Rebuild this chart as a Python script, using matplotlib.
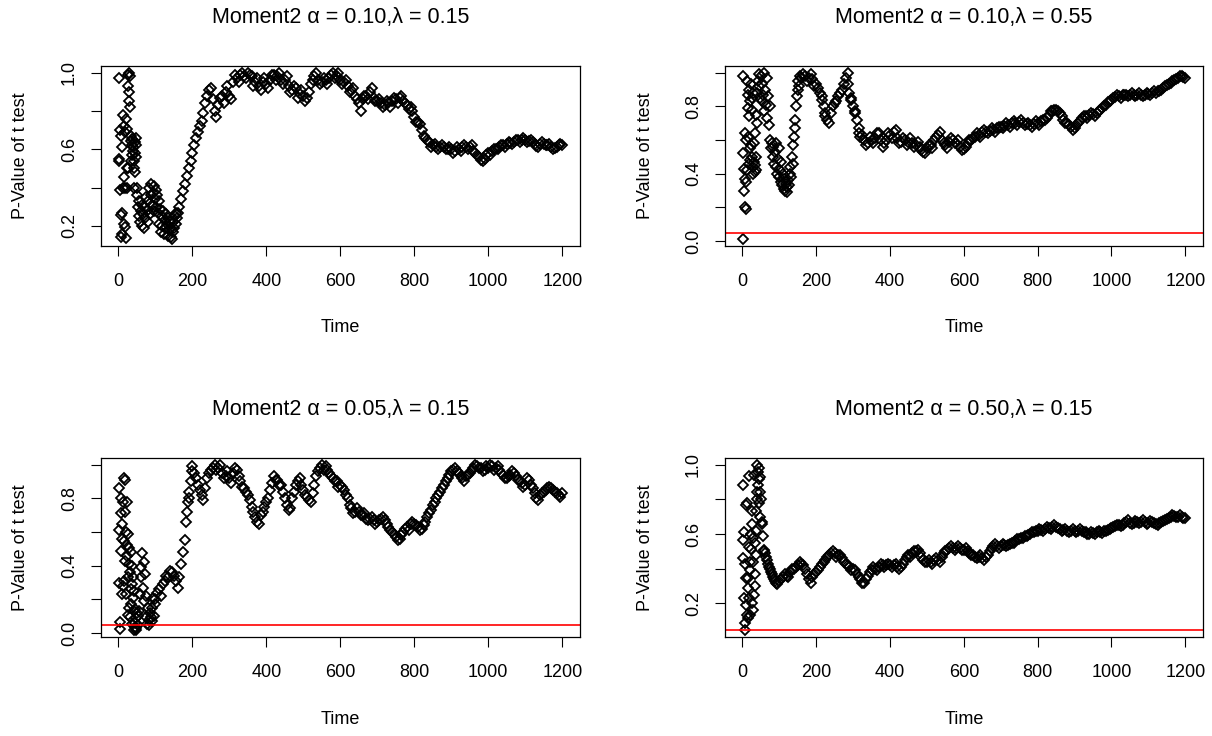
import matplotlib
matplotlib.use("Agg")
import matplotlib.pyplot as plt

plt.rcParams['font.family'] = ['Liberation Sans', 'DejaVu Sans']

# ---- panel 1: alpha 0.10, lambda 0.15 ----
p1_scatter_t = list(range(1, 51)) + list(range(51, 160, 2)) + [165, 175, 185, 195, 205, 215, 225, 235, 245, 255]
p1_scatter_v = [0.55, 0.54, 0.97, 0.39, 0.70, 0.14, 0.255, 0.67, 0.61, 0.27,
                0.16, 0.40, 0.78, 0.72, 0.21, 0.455, 0.40, 0.195, 0.69, 0.135,
                0.76, 0.705, 0.40, 0.50, 0.99, 0.93, 0.50, 0.90, 1.0, 0.85,
                0.82, 0.98, 0.67, 0.54, 0.645, 0.62, 0.57, 0.655, 0.59, 0.61,
                0.50, 0.54, 0.40, 0.64, 0.58, 0.48, 0.62, 0.66, 0.56, 0.40,
                0.36, 0.30, 0.25, 0.33, 0.22, 0.28, 0.20, 0.31, 0.26, 0.19,
                0.30, 0.24, 0.35, 0.28, 0.22, 0.33, 0.40, 0.26, 0.36, 0.42,
                0.31, 0.37, 0.28, 0.41, 0.34, 0.39, 0.30, 0.36, 0.27, 0.33,
                0.21, 0.29, 0.17, 0.25, 0.20, 0.28, 0.16, 0.23, 0.19, 0.26,
                0.21, 0.15, 0.24, 0.18, 0.22, 0.14, 0.19, 0.13, 0.17, 0.22,
                0.19, 0.25, 0.21, 0.27, 0.24,
                0.30, 0.38, 0.46, 0.54, 0.62, 0.69, 0.75, 0.84, 0.91, 0.86]
p1_band_t = list(range(160, 1201, 10))
p1_band_v = [0.27, 0.34, 0.42, 0.50, 0.58, 0.66, 0.72, 0.79, 0.88, 0.92,
             0.80, 0.83, 0.88, 0.90, 0.88, 0.95, 0.97, 0.99, 0.98, 1.0,
             0.98, 0.95, 0.93, 0.95, 0.94, 0.96, 0.99, 0.98, 0.96, 0.96,
             0.93, 0.91, 0.92, 0.89, 0.88, 0.87, 0.94, 0.98, 0.96, 0.95,
             0.96, 0.97, 1.0, 0.98, 0.96, 0.95, 0.93, 0.91, 0.88, 0.84,
             0.86, 0.88, 0.90, 0.87, 0.85, 0.84, 0.83, 0.84, 0.85, 0.86,
             0.87, 0.85, 0.83, 0.82, 0.77, 0.74, 0.70, 0.66, 0.64, 0.62,
             0.61, 0.61, 0.61, 0.60, 0.60, 0.59, 0.60, 0.61, 0.61, 0.61,
             0.59, 0.57, 0.545, 0.55, 0.58, 0.59, 0.60, 0.61, 0.62, 0.63,
             0.635, 0.64, 0.65, 0.65, 0.65, 0.645, 0.64, 0.615, 0.63, 0.63,
             0.62, 0.61, 0.605, 0.62, 0.625]
p1_mid_t = list(range(265, 1200, 10))
p1_mid_v = [0.77, 0.87, 0.84, 0.93, 0.86, 0.99, 0.95, 1.0, 0.97, 0.99,
            0.93, 0.97, 0.91, 0.97, 0.92, 0.99, 0.96, 1.0, 0.94, 0.98,
            0.90, 0.93, 0.87, 0.91, 0.85, 0.90, 0.96, 1.0, 0.94, 0.97,
            0.94, 0.99, 0.97, 1.0, 0.94, 0.96, 0.90, 0.92, 0.86, 0.80,
            0.88, 0.86, 0.92, 0.85, 0.86, 0.82, 0.85, 0.82, 0.87, 0.84,
            0.88, 0.84, 0.81, 0.80, 0.74, 0.73, 0.67, 0.65, 0.61, 0.63,
            0.60, 0.62, 0.60, 0.61, 0.58, 0.61, 0.59, 0.62, 0.60, 0.62,
            0.58, 0.56, 0.54, 0.57, 0.57, 0.60, 0.60, 0.62, 0.61, 0.64,
            0.63, 0.65, 0.64, 0.66, 0.64, 0.65, 0.63, 0.61, 0.64, 0.62,
            0.63, 0.60, 0.61, 0.63]

# ---- panel 2: alpha 0.10, lambda 0.55 ----
p2_scatter_t = list(range(1, 41)) + list(range(42, 157, 2)) + [215, 225, 285, 295, 305, 315]
p2_scatter_v = [0.01, 0.98, 0.52, 0.30, 0.43, 0.37, 0.20, 0.64, 0.60, 0.19,
                0.35, 0.42, 0.95, 0.62, 0.87, 0.79, 0.46, 0.74, 0.90, 0.55,
                0.83, 0.48, 0.93, 0.57, 0.85, 0.50, 0.78, 0.44, 0.88, 0.40,
                0.58, 0.47, 0.45, 0.64, 0.41, 0.50, 0.42, 0.75, 0.88, 0.70,
                0.95, 0.99, 0.92, 0.85, 0.98, 0.83, 0.93, 0.87, 1.0, 0.77,
                0.90, 0.81, 0.97, 0.73, 0.86, 0.69, 0.80, 0.60, 0.55, 0.58,
                0.50, 0.56, 0.46, 0.53, 0.44, 0.58, 0.40, 0.49, 0.38, 0.55,
                0.42, 0.35, 0.47, 0.33, 0.40, 0.31, 0.37, 0.30, 0.34, 0.32,
                0.29, 0.36, 0.33, 0.40, 0.44, 0.38, 0.50, 0.46, 0.57, 0.62,
                0.67, 0.72, 0.80, 0.86, 0.90, 0.95, 0.92, 0.98,
                0.84, 0.76, 0.93, 0.84, 0.76, 0.67]
p2_band_t = list(range(160, 1201, 10))
p2_band_v = [0.97, 0.98, 0.97, 0.96, 0.93, 0.88, 0.80, 0.72, 0.76, 0.82,
             0.86, 0.90, 0.97, 0.88, 0.80, 0.72, 0.62, 0.60, 0.58, 0.60,
             0.61, 0.64, 0.56, 0.60, 0.63, 0.65, 0.61, 0.59, 0.60, 0.59,
             0.58, 0.57, 0.56, 0.53, 0.55, 0.57, 0.60, 0.63, 0.60, 0.57,
             0.59, 0.60, 0.58, 0.56, 0.545, 0.58, 0.60, 0.62, 0.63, 0.645,
             0.65, 0.655, 0.66, 0.67, 0.68, 0.685, 0.69, 0.70, 0.70, 0.705,
             0.70, 0.695, 0.69, 0.695, 0.70, 0.71, 0.72, 0.75, 0.77, 0.78,
             0.76, 0.72, 0.70, 0.68, 0.67, 0.70, 0.73, 0.745, 0.75, 0.755,
             0.76, 0.78, 0.80, 0.825, 0.84, 0.855, 0.86, 0.865, 0.865, 0.87,
             0.87, 0.87, 0.865, 0.87, 0.875, 0.88, 0.88, 0.89, 0.91, 0.925,
             0.94, 0.955, 0.97, 0.98, 0.97]
p2_mid_t = list(range(165, 1200, 10))
p2_mid_v = [0.99, 0.95, 0.99, 0.92, 0.91, 0.86, 0.74, 0.70, 0.80, 0.83,
            0.88, 0.93, 1.0, 0.85, 0.77, 0.64, 0.63, 0.57, 0.62, 0.58,
            0.64, 0.60, 0.58, 0.64, 0.61, 0.66, 0.58, 0.61, 0.57, 0.61,
            0.56, 0.59, 0.54, 0.52, 0.57, 0.55, 0.62, 0.65, 0.58, 0.55,
            0.61, 0.58, 0.60, 0.54, 0.56, 0.60, 0.61, 0.64, 0.62, 0.66,
            0.64, 0.67, 0.65, 0.68, 0.67, 0.70, 0.68, 0.71, 0.69, 0.72,
            0.69, 0.70, 0.68, 0.71, 0.69, 0.72, 0.73, 0.77, 0.78, 0.77,
            0.74, 0.70, 0.69, 0.66, 0.69, 0.71, 0.74, 0.73, 0.76, 0.74,
            0.77, 0.79, 0.81, 0.83, 0.85, 0.87, 0.85, 0.87, 0.86, 0.88,
            0.86, 0.88, 0.86, 0.88, 0.87, 0.89, 0.89, 0.90, 0.92, 0.93,
            0.95, 0.96, 0.98, 0.975]

# ---- panel 3: alpha 0.05, lambda 0.15 ----
p3_scatter_t = (list(range(1, 51)) + list(range(52, 99, 2)) +
                [105, 115, 125, 135, 145, 155, 165, 175, 183, 186,
                 189, 192, 195, 198, 205, 215, 225, 235, 245, 255])
p3_scatter_v = [0.61, 0.30, 0.86, 0.065, 0.025, 0.80, 0.49, 0.71, 0.23, 0.56,
                0.65, 0.28, 0.78, 0.545, 0.31, 0.92, 0.72, 0.91, 0.43, 0.60,
                0.23, 0.525, 0.78, 0.457, 0.11, 0.33, 0.59, 0.15, 0.505, 0.41,
                0.094, 0.36, 0.26, 0.48, 0.17, 0.29, 0.40, 0.055, 0.21, 0.33,
                0.13, 0.016, 0.25, 0.06, 0.035, 0.14, 0.09, 0.02, 0.03, 0.12,
                0.05, 0.10, 0.13, 0.23, 0.39, 0.33, 0.476, 0.27, 0.42, 0.19,
                0.35, 0.094, 0.22, 0.055, 0.15, 0.08, 0.05, 0.12, 0.094, 0.07,
                0.15, 0.21, 0.10, 0.17,
                0.24, 0.22, 0.31, 0.33, 0.36, 0.31, 0.33, 0.48, 0.66, 0.72,
                0.78, 0.84, 0.90, 0.96, 0.95, 0.88, 0.82, 0.86, 0.95, 0.98]
p3_band_t = list(range(100, 1201, 10))
p3_band_v = [0.20, 0.26, 0.29, 0.34, 0.37, 0.34, 0.27, 0.41, 0.55, 0.80,
             0.99, 0.92, 0.85, 0.79, 0.92, 0.97, 1.0, 0.98, 0.95, 0.93,
             0.92, 0.95, 0.97, 0.90, 0.86, 0.82, 0.75, 0.69, 0.65, 0.72,
             0.78, 0.85, 0.93, 0.91, 0.88, 0.80, 0.73, 0.80, 0.88, 0.92,
             0.85, 0.81, 0.78, 0.88, 0.96, 1.0, 0.99, 0.95, 0.92, 0.90,
             0.88, 0.85, 0.80, 0.74, 0.72, 0.72, 0.70, 0.68, 0.68, 0.67,
             0.66, 0.68, 0.67, 0.63, 0.60, 0.57, 0.56, 0.60, 0.63, 0.645,
             0.65, 0.63, 0.62, 0.66, 0.71, 0.76, 0.80, 0.84, 0.88, 0.92,
             0.96, 0.98, 0.95, 0.92, 0.93, 0.95, 0.98, 0.99, 0.98, 0.97,
             0.98, 0.99, 0.98, 0.97, 0.94, 0.92, 0.94, 0.95, 0.91, 0.89,
             0.88, 0.91, 0.86, 0.80, 0.82, 0.84, 0.86, 0.86, 0.84, 0.82,
             0.83]
p3_mid_t = list(range(265, 1200, 10))
p3_mid_v = [0.97, 1.0, 0.92, 0.96, 0.89, 0.98, 0.93, 0.87, 0.84, 0.79,
            0.72, 0.66, 0.70, 0.75, 0.80, 0.89, 0.91, 0.88, 0.84, 0.76,
            0.74, 0.84, 0.90, 0.88, 0.82, 0.79, 0.83, 0.93, 0.98, 0.97,
            0.97, 0.93, 0.90, 0.87, 0.87, 0.82, 0.76, 0.71, 0.74, 0.70,
            0.71, 0.67, 0.69, 0.65, 0.67, 0.69, 0.65, 0.61, 0.59, 0.555,
            0.58, 0.62, 0.61, 0.66, 0.64, 0.61, 0.64, 0.69, 0.73, 0.78,
            0.82, 0.86, 0.90, 0.94, 0.97, 0.96, 0.93, 0.90, 0.94, 0.97,
            1.0, 0.98, 0.96, 0.99, 1.0, 0.97, 0.99, 0.95, 0.92, 0.93,
            0.96, 0.93, 0.90, 0.87, 0.92, 0.88, 0.83, 0.79, 0.83, 0.85,
            0.87, 0.85, 0.83, 0.81]

# ---- panel 4: alpha 0.50, lambda 0.15 ----
p4_scatter_t = list(range(1, 51)) + list(range(52, 61, 2)) + [62, 65, 68, 73, 75, 78, 83, 85, 88, 95]
p4_scatter_v = [0.88, 0.565, 0.46, 0.61, 0.23, 0.43, 0.045, 0.09, 0.345, 0.19,
                0.765, 0.135, 0.78, 0.115, 0.345, 0.29, 0.525, 0.935, 0.23, 0.39,
                0.135, 0.44, 0.60, 0.515, 0.66, 0.73, 0.20, 0.44, 0.16, 0.58,
                0.25, 0.94, 0.37, 0.30, 0.55, 0.62, 0.73, 0.48, 0.84, 1.0,
                0.80, 0.955, 0.88, 0.92, 0.78, 0.98, 0.84, 0.70, 0.93, 0.80,
                0.67, 0.66, 0.59, 0.51, 0.50,
                0.49, 0.47, 0.45, 0.41, 0.40, 0.38, 0.35, 0.34, 0.33, 0.31]
p4_band_t = list(range(70, 1201, 10))
p4_band_v = [0.43, 0.37, 0.32, 0.33, 0.35, 0.36, 0.38, 0.40, 0.42, 0.43,
             0.40, 0.34, 0.35, 0.38, 0.41, 0.44, 0.47, 0.49, 0.49, 0.48,
             0.46, 0.43, 0.41, 0.40, 0.37, 0.34, 0.32, 0.36, 0.39, 0.40,
             0.41, 0.42, 0.42, 0.42, 0.42, 0.41, 0.41, 0.45, 0.48, 0.49,
             0.50, 0.49, 0.45, 0.44, 0.44, 0.45, 0.45, 0.47, 0.50, 0.52,
             0.52, 0.52, 0.52, 0.51, 0.50, 0.48, 0.47, 0.47, 0.46, 0.47,
             0.50, 0.53, 0.53, 0.53, 0.535, 0.535, 0.55, 0.56, 0.57, 0.58,
             0.59, 0.60, 0.61, 0.62, 0.625, 0.63, 0.635, 0.64, 0.64, 0.63,
             0.625, 0.62, 0.62, 0.62, 0.62, 0.62, 0.61, 0.60, 0.605, 0.61,
             0.61, 0.615, 0.625, 0.635, 0.645, 0.65, 0.655, 0.67, 0.665, 0.665,
             0.67, 0.67, 0.67, 0.665, 0.67, 0.66, 0.665, 0.675, 0.685, 0.70,
             0.705, 0.70, 0.70, 0.695]
p4_mid_t = list(range(105, 1200, 10))
p4_mid_v = [0.34, 0.37, 0.35, 0.40, 0.41, 0.44, 0.42, 0.37, 0.32, 0.37,
            0.39, 0.43, 0.45, 0.48, 0.50, 0.47, 0.48, 0.44, 0.42, 0.39,
            0.39, 0.35, 0.32, 0.34, 0.38, 0.41, 0.39, 0.43, 0.41, 0.43,
            0.41, 0.43, 0.40, 0.43, 0.47, 0.47, 0.50, 0.51, 0.47, 0.44,
            0.45, 0.43, 0.46, 0.44, 0.49, 0.51, 0.53, 0.51, 0.53, 0.51,
            0.52, 0.49, 0.48, 0.46, 0.48, 0.45, 0.48, 0.52, 0.54, 0.52,
            0.54, 0.53, 0.54, 0.55, 0.57, 0.575, 0.59, 0.595, 0.61, 0.615,
            0.63, 0.62, 0.64, 0.63, 0.65, 0.635, 0.62, 0.63, 0.61, 0.63,
            0.61, 0.63, 0.61, 0.60, 0.61, 0.60, 0.62, 0.605, 0.62, 0.63,
            0.64, 0.655, 0.645, 0.665, 0.68, 0.66, 0.675, 0.665, 0.68, 0.66,
            0.675, 0.665, 0.655, 0.67, 0.68, 0.69, 0.71, 0.70, 0.71, 0.69]

titles = ['Moment2 \u03b1 = 0.10,\u03bb = 0.15', 'Moment2 \u03b1 = 0.10,\u03bb = 0.55',
          'Moment2 \u03b1 = 0.05,\u03bb = 0.15', 'Moment2 \u03b1 = 0.50,\u03bb = 0.15']
panels = [(p1_scatter_t + p1_band_t + p1_mid_t, p1_scatter_v + p1_band_v + p1_mid_v),
          (p2_scatter_t + p2_band_t + p2_mid_t, p2_scatter_v + p2_band_v + p2_mid_v),
          (p3_scatter_t + p3_band_t + p3_mid_t, p3_scatter_v + p3_band_v + p3_mid_v),
          (p4_scatter_t + p4_band_t + p4_mid_t, p4_scatter_v + p4_band_v + p4_mid_v)]
y_ticks = [[0.2, 0.4, 0.6, 0.8, 1.0], [0.0, 0.2, 0.4, 0.6, 0.8, 1.0],
           [0.0, 0.2, 0.4, 0.6, 0.8, 1.0], [0.2, 0.4, 0.6, 0.8, 1.0]]
y_labels = [['0.2', '', '0.6', '', '1.0'], ['0.0', '', '0.4', '', '0.8', ''],
            ['0.0', '', '0.4', '', '0.8', ''], ['0.2', '', '0.6', '', '1.0']]
cutoff = 0.05

W, H = 1212, 736
boxes = [(101, 66, 580, 246), (725, 66, 1203, 246),
         (101, 458, 580, 637), (725, 458, 1203, 637)]

fig = plt.figure(figsize=(W / 100, H / 100), dpi=100)
for i, (t, p) in enumerate(panels):
    x0, y0, x1, y1 = boxes[i]
    ax = fig.add_axes([x0 / W, 1 - y1 / H, (x1 - x0) / W, (y1 - y0) / H])
    ax.plot(t, p, linestyle='none', marker='D', markersize=5,
            markerfacecolor='none', markeredgecolor='black', markeredgewidth=1.3)
    # R style 4% padding on both axes
    tr = max(t) - min(t)
    ax.set_xlim(min(t) - 0.04 * tr, max(t) + 0.04 * tr)
    pr = max(p) - min(p)
    ax.set_ylim(min(p) - 0.04 * pr, max(p) + 0.04 * pr)
    ax.axhline(cutoff, color='red', linewidth=1.2)

    ax.set_xticks(range(0, 1201, 200))
    ax.set_yticks(y_ticks[i])
    ax.set_yticklabels(y_labels[i], rotation=90, va='center')
    ax.tick_params(direction='out', length=7.2, width=0.8, labelsize=13, pad=9.5)
    ax.tick_params(axis='x', pad=12)
    for s in ax.spines.values():
        s.set_linewidth(0.9)

    ax.set_xlabel('Time', fontsize=13, va='center')
    ax.xaxis.set_label_coords(0.5, -82 / (y1 - y0))
    ax.set_ylabel('P-Value of t test', fontsize=13, va='center')
    ax.yaxis.set_label_coords(-80 / (x1 - x0), 0.5)
    ax.set_title(titles[i], fontsize=15.5, y=1 + 48 / (y1 - y0), va='center', pad=0)

fig.savefig('out.png', dpi=100)
